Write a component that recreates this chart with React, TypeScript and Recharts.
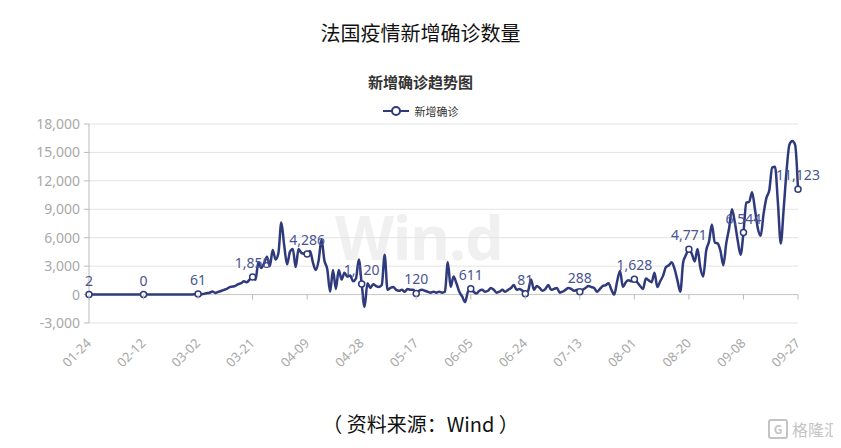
import { LineChart, Line, XAxis, YAxis, CartesianGrid, ReferenceLine } from 'recharts'

// daily new confirmed cases in France, 2020-01-24 .. 2020-09-27
const newCases: number[] = [
  2, 1, 0, 0, 1, 0, 0, 0, 1, 0,
  0, 0, 0, 0, 0, 5, 0, 0, 0, 0,
  0, 1, 0, 0, 0, 0, 0, 0, 0, 0,
  0, 0, 1, 3, 4, 20, 19, 43, 61, 30,
  73, 138, 190, 336, 177, 286, 372, 497, 595, 785,
  838, 924, 1100, 1200, 1400, 1300, 1600, 1858, 1559, 3400,
  2800, 3300, 4000, 3000, 4700, 3700, 4400, 7600, 5200, 3200,
  4500, 4800, 2900, 4800, 4400, 4300, 4286, 4600, 3400, 2600,
  3600, 5800, 3600, 2700, 300, 2600, 600, 2600, 1600, 2300,
  1900, 2000, 1400, 1700, 3700, 1120, -1300, 1200, 700, 1100,
  900, 800, 1000, 4200, 500, 700, 800, 500, 400, 500,
  300, 600, 500, 500, 120, 400, 500, 400, 300, 200,
  300, 200, 300, 200, 300, 3400, 800, 1900, 1200, 300,
  -200, -800, 300, 611, 300, 100, 400, 500, 300, 400,
  700, 500, 200, 300, 500, 300, 500, 700, 1000, 500,
  600, 400, 81, 400, 1600, 500, 900, 700, 400, 600,
  1000, 500, 600, 700, 200, 300, 500, 700, 600, 400,
  500, 288, 500, 700, 900, 800, 700, 300, 600, 900,
  1000, 1200, 500, 0, 1400, 2500, 800, 1300, 1500, 1400,
  1628, 1300, 900, 600, 1700, 1500, 1300, 2300, 800, 1400,
  2000, 2900, 3100, 3400, 2700, 1500, 300, 3400, 4200, 4771,
  4300, 3500, 4800, 2800, 1900, 4600, 5600, 7400, 5500, 5400,
  4600, 3100, 5400, 7000, 9000, 7600, 5700, 4200, 6544, 9700,
  9800, 10800, 9000, 7000, 6200, 8500, 10200, 11000, 13400, 13500,
  9700, 5400, 9000, 13000, 15800, 16200, 15800, 11123,
]

const START = Date.UTC(2020, 0, 24)
const dates: string[] = newCases.map((_, i) => {
  const d = new Date(START + i * 86400000)
  const mm = String(d.getUTCMonth() + 1).padStart(2, '0')
  const dd = String(d.getUTCDate()).padStart(2, '0')
  return `${mm}-${dd}`
})

const yTicks = [-3000, 0, 3000, 6000, 9000, 12000, 15000, 18000]
const LABEL_STEP = 19

const data = dates.map((date, i) => ({ date, value: newCases[i] }))

const W = 841
const H = 448
const MARGIN = { top: 124, right: 43, bottom: 80, left: 29 }
const X_AXIS_H = 45
const PLOT_H = H - MARGIN.top - MARGIN.bottom - X_AXIS_H
const Y_MIN = yTicks[0]
const Y_MAX = yTicks[yTicks.length - 1]
const zeroDrop = (PLOT_H * (0 - Y_MIN)) / (Y_MAX - Y_MIN)

const NAVY = '#2f3a7c'
const cjk = '"Noto Sans CJK SC", "Noto Sans", sans-serif'
const num = '"Noto Sans", "Open Sans", sans-serif'

const fmt = (v: number) => v.toLocaleString('en-US')

const DateTick = (props: any) => {
  const { x, y, payload } = props
  const tx = x + 3
  const ty = y + 21
  return (
    <g>
      <line x1={x} x2={x} y1={y - zeroDrop} y2={y - zeroDrop + 5} stroke="#bbb" />
      <text
        x={tx}
        y={ty}
        transform={`rotate(-45, ${tx}, ${ty})`}
        textAnchor="end"
        fill="#a8a8a8"
        fontSize={13}
        fontFamily={num}
      >
        {payload.value}
      </text>
    </g>
  )
}

const PointDot = (props: any) => {
  const { cx, cy, index } = props
  if (index % LABEL_STEP !== 0) return <g key={`d${index}`} />
  return <circle key={`d${index}`} cx={cx} cy={cy} r={3} fill="#fff" stroke={NAVY} strokeWidth={1.5} />
}

const PointLabel = (props: any) => {
  const { x, y, value, index } = props
  if (index % LABEL_STEP !== 0) return <g key={`l${index}`} />
  return (
    <text key={`l${index}`} x={x} y={y - 9} textAnchor="middle" fill="#4a5592" fontSize={14} fontFamily={num}>
      {fmt(value)}
    </text>
  )
}

export default function App() {
  return (
    <div style={{ position: 'relative', width: W, height: H, margin: -8, background: '#fff', overflow: 'hidden' }}>
      <div style={{ position: 'absolute', top: 18, left: 0, width: W, textAlign: 'center', fontFamily: cjk, fontSize: 20, color: '#111' }}>
        法国疫情新增确诊数量
      </div>
      <div style={{ position: 'absolute', top: 71, left: 0, width: W, textAlign: 'center', fontFamily: cjk, fontSize: 15, fontWeight: 700, color: '#333' }}>
        新增确诊趋势图
      </div>
      <div style={{ position: 'absolute', top: 103, left: 0, width: W, display: 'flex', justifyContent: 'center', alignItems: 'center', fontFamily: cjk, fontSize: 11, color: '#333' }}>
        <svg width={26} height={14} style={{ marginRight: 6 }}>
          <line x1={0} x2={26} y1={7} y2={7} stroke={NAVY} strokeWidth={2} />
          <circle cx={13} cy={7} r={4} fill="#fff" stroke={NAVY} strokeWidth={2} />
        </svg>
        <span>新增确诊</span>
      </div>
      <div style={{ position: 'absolute', top: 195, left: 335, fontFamily: num, fontWeight: 700, fontSize: 61, color: '#f0f0f0', lineHeight: 1.362, letterSpacing: -1 }}>
        Win.d
      </div>
      <div style={{ position: 'absolute', top: 0, left: 0 }}>
        <LineChart width={W} height={H} data={data} margin={MARGIN}>
          <CartesianGrid vertical={false} stroke="#e3e3e3" />
          <XAxis
            dataKey="date"
            interval={LABEL_STEP - 1}
            height={X_AXIS_H}
            axisLine={false}
            tickLine={false}
            tickSize={0}
            tickMargin={0}
            tick={<DateTick />}
          />
          <YAxis
            width={60}
            domain={[Y_MIN, Y_MAX]}
            ticks={yTicks}
            tickFormatter={fmt}
            axisLine={{ stroke: '#bbb' }}
            tickLine={{ stroke: '#bbb' }}
            tickSize={5}
            tickMargin={4}
            tick={{ fill: '#a8a8a8', fontSize: 14, fontFamily: num }}
          />
          <ReferenceLine y={0} stroke="#c8c8c8" />
          <Line
            type="monotone"
            dataKey="value"
            stroke={NAVY}
            strokeWidth={2.5}
            dot={PointDot}
            activeDot={false}
            label={PointLabel}
            isAnimationActive={false}
          />
        </LineChart>
      </div>
      <div style={{ position: 'absolute', top: 409, left: 0, width: W, textAlign: 'center', fontFamily: cjk, fontSize: 20, color: '#111' }}>
        （ 资料来源：Wind ）
      </div>
      <div style={{ position: 'absolute', top: 417, left: 768, display: 'flex', alignItems: 'center', fontFamily: cjk, fontSize: 16, color: '#c4c4c4' }}>
        <span style={{ display: 'inline-block', width: 16, height: 16, border: '2px solid #c4c4c4', borderRadius: 3, fontSize: 12, lineHeight: '16px', textAlign: 'center', marginRight: 4, fontWeight: 700 }}>G</span>
        <span>格隆汇</span>
      </div>
    </div>
  )
}
